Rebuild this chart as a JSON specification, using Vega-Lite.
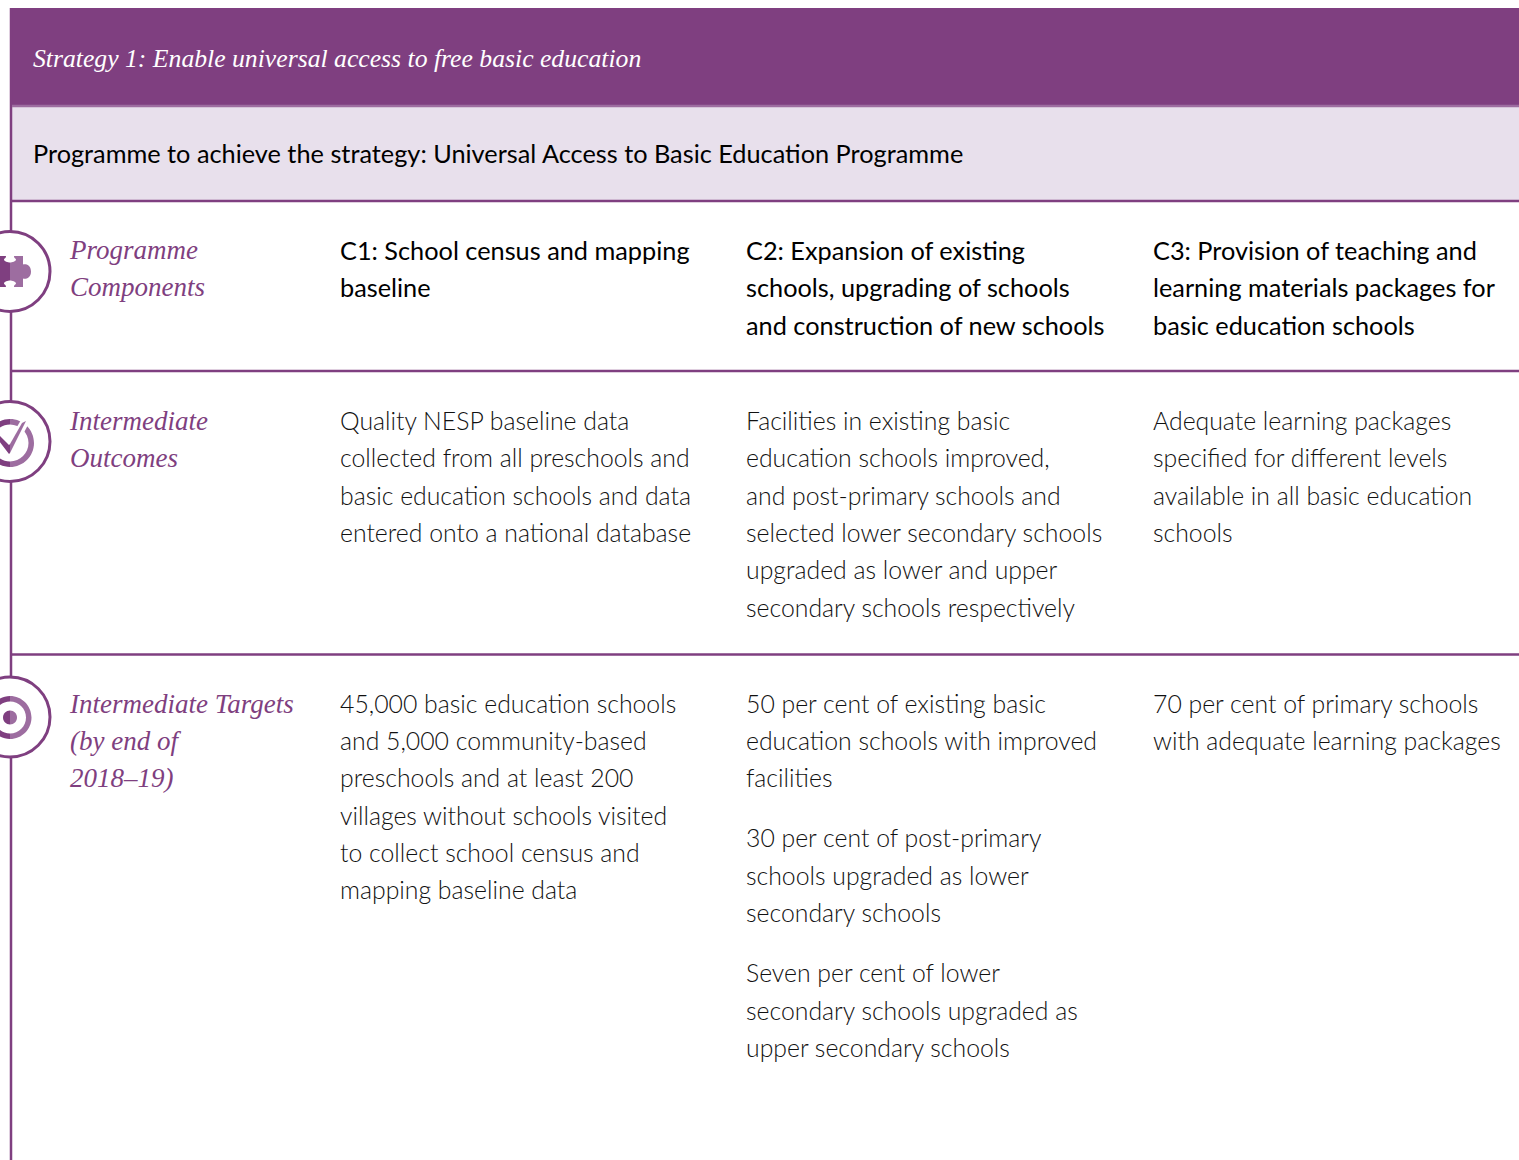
{"$schema":"https://vega.github.io/schema/vega-lite/v6.json","width":1519,"height":1160,"padding":0,"autosize":{"type":"none"},"background":"white","config":{"view":{"stroke":null}},
"datasets":{
"bands":[{"name":"strategy","left":10,"right":1519,"top":8,"bottom":106,"tone":"dark"},{"name":"programme","left":12,"right":1519,"top":106,"bottom":200,"tone":"pale"}],
"hrules":[{"left":12,"right":1519,"at":106,"tone":"mid"},{"left":10,"right":1519,"at":201,"tone":"dark"},{"left":10,"right":1519,"at":371,"tone":"dark"},{"left":10,"right":1519,"at":654.5,"tone":"dark"}],
"vrules":[{"at":11,"top":8,"bottom":1160}],
"rings":[{"name":"components","cx":10,"cy":271.5},{"name":"outcomes","cx":10,"cy":441.5},{"name":"targets","cx":10,"cy":717}],
"glyphs":[
{"cx":10,"cy":271.5,"part":"puzzleL","tone":"dark"},{"cx":10,"cy":271.5,"part":"puzzleR","tone":"light"},
{"cx":10,"cy":443,"part":"ringL","tone":"dark"},{"cx":10,"cy":443,"part":"ringR","tone":"light"},{"cx":10,"cy":443,"part":"halo","tone":"white"},{"cx":10,"cy":443,"part":"checkL","tone":"dark"},{"cx":10,"cy":443,"part":"checkR","tone":"light"},
{"cx":10,"cy":717.5,"part":"targetL","tone":"dark"},{"cx":10,"cy":717.5,"part":"targetR","tone":"light"},{"cx":10,"cy":717.5,"part":"dotL","tone":"dark"},{"cx":10,"cy":717.5,"part":"dotR","tone":"light"}],
"banner":[{"x":33,"y":66.5,"t":"Strategy 1: Enable universal access to free basic education"}],
"labels":[{"x":70,"y":259,"t":"Programme"},{"x":70,"y":296,"t":"Components"},{"x":70,"y":430,"t":"Intermediate"},{"x":70,"y":467,"t":"Outcomes"},{"x":70,"y":713,"t":"Intermediate Targets"},{"x":70,"y":750,"t":"(by end of"},{"x":70,"y":787,"t":"2018–19)"}],
"heads":[{"x":33,"y":163,"t":"Programme to achieve the strategy: Universal Access to Basic Education Programme"},
{"x":340,"y":259.5,"t":"C1: School census and mapping"},{"x":340,"y":296.5,"t":"baseline"},
{"x":746,"y":259.5,"t":"C2: Expansion of existing"},{"x":746,"y":296.5,"t":"schools, upgrading of schools"},{"x":746,"y":334.5,"t":"and construction of new schools"},
{"x":1153,"y":259.5,"t":"C3: Provision of teaching and"},{"x":1153,"y":296.5,"t":"learning materials packages for"},{"x":1153,"y":334.5,"t":"basic education schools"}],
"body":[{"x":340,"y":430,"t":"Quality NESP baseline data"},{"x":340,"y":467,"t":"collected from all preschools and"},{"x":340,"y":505,"t":"basic education schools and data"},{"x":340,"y":542,"t":"entered onto a national database"},
{"x":746,"y":430,"t":"Facilities in existing basic"},{"x":746,"y":467,"t":"education schools improved,"},{"x":746,"y":505,"t":"and post-primary schools and"},{"x":746,"y":542,"t":"selected lower secondary schools"},{"x":746,"y":579,"t":"upgraded as lower and upper"},{"x":746,"y":617,"t":"secondary schools respectively"},
{"x":1153,"y":430,"t":"Adequate learning packages"},{"x":1153,"y":467,"t":"specified for different levels"},{"x":1153,"y":505,"t":"available in all basic education"},{"x":1153,"y":542,"t":"schools"},
{"x":340,"y":713,"t":"45,000 basic education schools"},{"x":340,"y":750,"t":"and 5,000 community-based"},{"x":340,"y":787,"t":"preschools and at least 200"},{"x":340,"y":825,"t":"villages without schools visited"},{"x":340,"y":862,"t":"to collect school census and"},{"x":340,"y":899,"t":"mapping baseline data"},
{"x":746,"y":713,"t":"50 per cent of existing basic"},{"x":746,"y":750,"t":"education schools with improved"},{"x":746,"y":787,"t":"facilities"},{"x":746,"y":847,"t":"30 per cent of post-primary"},{"x":746,"y":885,"t":"schools upgraded as lower"},{"x":746,"y":922,"t":"secondary schools"},{"x":746,"y":982,"t":"Seven per cent of lower"},{"x":746,"y":1020,"t":"secondary schools upgraded as"},{"x":746,"y":1057,"t":"upper secondary schools"},
{"x":1153,"y":713,"t":"70 per cent of primary schools"},{"x":1153,"y":750,"t":"with adequate learning packages"}]},
"layer":[
{"data":{"name":"bands"},"mark":{"type":"rect"},"encoding":{"x":{"field":"left","type":"quantitative","scale":{"domain":[0,1519],"nice":false,"zero":false},"axis":null},"x2":{"field":"right"},"y":{"field":"top","type":"quantitative","scale":{"domain":[1160,0],"nice":false,"zero":false},"axis":null},"y2":{"field":"bottom"},"color":{"field":"tone","type":"nominal","scale":{"domain":["dark","pale","light","white"],"range":["#7F3F80","#E8E0EC","#9D6DA0","#FFFFFF"]},"legend":null}}},
{"data":{"name":"vrules"},"mark":{"type":"rule","color":"#7F3F80","strokeWidth":2.5},"encoding":{"x":{"field":"at","type":"quantitative"},"y":{"field":"top","type":"quantitative"},"y2":{"field":"bottom"}}},
{"data":{"name":"hrules"},"mark":{"type":"rule","strokeWidth":2.5},"encoding":{"x":{"field":"left","type":"quantitative"},"x2":{"field":"right"},"y":{"field":"at","type":"quantitative"},"stroke":{"field":"tone","type":"nominal","scale":{"domain":["dark","mid"],"range":["#7F3F80","#9D6DA0"]},"legend":null},"strokeWidth":{"condition":{"test":"datum.tone==='mid'","value":1},"value":2.5}}},
{"data":{"name":"rings"},"mark":{"type":"point","shape":"circle","filled":true,"fill":"white","stroke":"#7F3F80","strokeWidth":3,"size":6400,"opacity":1},"encoding":{"x":{"field":"cx","type":"quantitative"},"y":{"field":"cy","type":"quantitative"}}},
{"data":{"name":"glyphs"},"mark":{"type":"point","filled":true,"size":4,"opacity":1},"encoding":{"x":{"field":"cx","type":"quantitative"},"y":{"field":"cy","type":"quantitative"},
"shape":{"field":"part","type":"nominal","legend":null,"scale":{"domain":["puzzleL","puzzleR","ringL","ringR","halo","checkL","checkR","targetL","targetR","dotL","dotR"],"range":[
"M-12,-15.5 H-4 C-4,-13 -6,-13 -6,-12 C-6,-10 -2,-9 0,-9 V9 C-2,9 -6,10 -6,12 C-6,13 -4,13 -4,15.5 H-12 Z",
"M0,-9 C2,-9 6,-10 6,-12 C6,-13 4,-13 4,-15.5 H13 V-7 C15,-8 21,-7 21,0 C21,7 15,8 13,7 V15.5 H4 C4,13 6,13 6,12 C6,10 2,9 0,9 Z",
"M0,-24 A24,24 0 0 0 0,24 V18.5 A18.5,18.5 0 0 1 0,-18.5 Z",
"M0,-24 A24,24 0 0 1 0,24 V18.5 A18.5,18.5 0 0 0 0,-18.5 Z",
"M-2,-1 L11,-23 L18,-25 L19,-20 L2,12 Z",
"M-11,-8 L-1,2 L0,1 V10 L-1,11 L-11,-2 Z",
"M0,1 L12,-20 L16,-22 L0,10 Z",
"M0,-21.5 A21.5,21.5 0 0 0 0,21.5 V16 A16,16 0 0 1 0,-16 Z",
"M0,-21.5 A21.5,21.5 0 0 1 0,21.5 V16 A16,16 0 0 0 0,-16 Z",
"M0,-7 A7,7 0 0 0 0,7 Z",
"M0,-7 A7,7 0 0 1 0,7 Z"]}},
"color":{"field":"tone","type":"nominal","legend":null}}},
{"data":{"name":"banner"},"mark":{"type":"text","align":"left","baseline":"alphabetic","font":"Liberation Serif","fontStyle":"italic","fontSize":25.7,"color":"#FFFFFF"},"encoding":{"x":{"field":"x","type":"quantitative"},"y":{"field":"y","type":"quantitative"},"text":{"field":"t"}}},
{"data":{"name":"labels"},"mark":{"type":"text","align":"left","baseline":"alphabetic","font":"Liberation Serif","fontStyle":"italic","fontSize":27,"color":"#7F3F80"},"encoding":{"x":{"field":"x","type":"quantitative"},"y":{"field":"y","type":"quantitative"},"text":{"field":"t"}}},
{"data":{"name":"heads"},"mark":{"type":"text","align":"left","baseline":"alphabetic","font":"Lato","fontWeight":400,"fontSize":25.3,"color":"#000000"},"encoding":{"x":{"field":"x","type":"quantitative"},"y":{"field":"y","type":"quantitative"},"text":{"field":"t"}}},
{"data":{"name":"body"},"mark":{"type":"text","align":"left","baseline":"alphabetic","font":"Lato","fontWeight":300,"fontSize":24.8,"color":"#111111"},"encoding":{"x":{"field":"x","type":"quantitative"},"y":{"field":"y","type":"quantitative"},"text":{"field":"t"}}}
]}
